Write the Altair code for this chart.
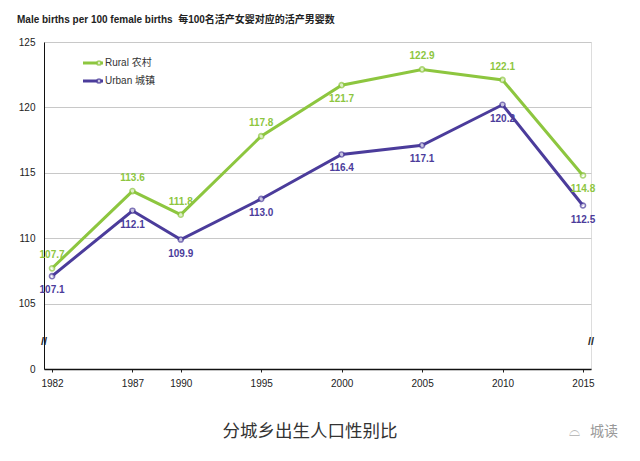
import altair as alt
import pandas as pd

years = [1982, 1987, 1990, 1995, 2000, 2005, 2010, 2015]
rural = [107.7, 113.6, 111.8, 117.8, 121.7, 122.9, 122.1, 114.8]
urban = [107.1, 112.1, 109.9, 113.0, 116.4, 117.1, 120.2, 112.5]
series_names = ["Rural 农村", "Urban 城镇"]
series_colors = ["#8DC63F", "#4B3C9B"]
y_ticks = [100, 105, 110, 115, 120, 125]

FONT = "Liberation Sans, Arial, Noto Sans CJK SC"

rows = []
for y, r, u in zip(years, rural, urban):
    rows.append({"year": y, "value": r, "series": series_names[0]})
    rows.append({"year": y, "value": u, "series": series_names[1]})
df = pd.DataFrame(rows)

W, H = 547, 327
xscale = alt.Scale(domain=[1981.5, 2015.5], nice=False, zero=False)
yscale = alt.Scale(domain=[100, 125], nice=False, zero=False)
cscale = alt.Scale(domain=series_names, range=series_colors)

base = alt.Chart(df)

lines = base.mark_line(strokeWidth=3).encode(
    x=alt.X("year:Q", scale=xscale,
            axis=alt.Axis(values=years, format="d", title=None, grid=False,
                          labelFontSize=10, labelColor="#222", labelFont=FONT,
                          tickSize=3, tickColor="#222", domainColor="#111",
                          domainWidth=1.5, labelPadding=6)),
    y=alt.Y("value:Q", scale=yscale,
            axis=alt.Axis(values=y_ticks, title=None, gridColor="#c8c8c8",
                          gridWidth=1, labelFontSize=10, labelColor="#222",
                          labelFont=FONT, tickSize=0, labelPadding=9,
                          domainColor="#111", domainWidth=1,
                          labelExpr="datum.value < 101 ? '0' : datum.label")),
    color=alt.Color("series:N", scale=cscale, legend=None),
)

points = base.mark_point(shape="circle", filled=True, fill="white",
                         size=26, strokeWidth=1.6).encode(
    x=alt.X("year:Q", scale=xscale),
    y=alt.Y("value:Q", scale=yscale),
    stroke=alt.Color("series:N", scale=cscale, legend=None),
)

def labels(expr, dy):
    return base.transform_filter(expr).mark_text(
        dy=dy, fontSize=10, fontWeight="bold", font=FONT).encode(
        x=alt.X("year:Q", scale=xscale), y=alt.Y("value:Q", scale=yscale),
        text=alt.Text("value:Q", format=".1f"),
        color=alt.Color("series:N", scale=cscale, legend=None),
    )

rural_above = labels(
    f"datum.series == '{series_names[0]}' && datum.year != 2000 && datum.year != 2015", -13)
rural_below = labels(
    f"datum.series == '{series_names[0]}' && (datum.year == 2000 || datum.year == 2015)", 14)
urban_below = labels(f"datum.series == '{series_names[1]}'", 14)

one = pd.DataFrame({"a": [0]})

# legend (manual)
leg = []
for i, (name, col) in enumerate(zip(series_names, series_colors)):
    yy = 21 + 18 * i
    leg.append(alt.Chart(one).mark_rule(color=col, strokeWidth=3).encode(
        x=alt.value(39), x2=alt.value(59), y=alt.value(yy)))
    leg.append(alt.Chart(one).mark_point(
        shape="circle", filled=True, fill="white", stroke=col, size=18, strokeWidth=1.5).encode(
        x=alt.value(55), y=alt.value(yy)))
    leg.append(alt.Chart(one).mark_text(
        align="left", baseline="middle", fontSize=10, font=FONT, color="#333").encode(
        x=alt.value(61), y=alt.value(yy), text=alt.value(name)))

title = alt.Chart(one).mark_text(align="left", baseline="middle", fontSize=10,
                                 fontWeight="bold", font=FONT, color="#222").encode(
    x=alt.value(-27), y=alt.value(-22),
    text=alt.value("Male births per 100 female births\u00a0\u00a0每100名活产女婴对应的活产男婴数"))

caption = alt.Chart(one).mark_text(align="center", baseline="middle", fontSize=17.5,
                                   font="Noto Sans CJK SC", color="#333").encode(
    x=alt.value(266), y=alt.value(390), text=alt.value("分城乡出生人口性别比"))

watermark = alt.Chart(one).mark_text(align="left", baseline="middle", fontSize=14,
                                     font="Noto Sans CJK SC", color="#999").encode(
    x=alt.value(546), y=alt.value(390), text=alt.value("城读"))
wm_icon = alt.Chart(one).mark_text(align="center", baseline="middle", fontSize=14,
                                   font=FONT, color="#bbb").encode(
    x=alt.value(530), y=alt.value(390), text=alt.value("⌓"))

def brk(xpos):
    return alt.Chart(one).mark_text(align="center", baseline="middle", fontSize=11,
                                    font=FONT, color="#222", fontWeight="bold").encode(
        x=alt.value(xpos), y=alt.value(300), text=alt.value("//"))

chart = alt.layer(lines, points, rural_above, rural_below, urban_below,
                  *leg, title, caption, watermark, wm_icon, brk(0), brk(W)).properties(
    width=W, height=H,
    padding={"left": 36, "top": 34, "right": 41, "bottom": 84},
    autosize="none",
).configure_view(stroke="#444", strokeWidth=1).configure(background="white")

chart.save("out.html", embed_options={"renderer": "svg", "actions": False})
